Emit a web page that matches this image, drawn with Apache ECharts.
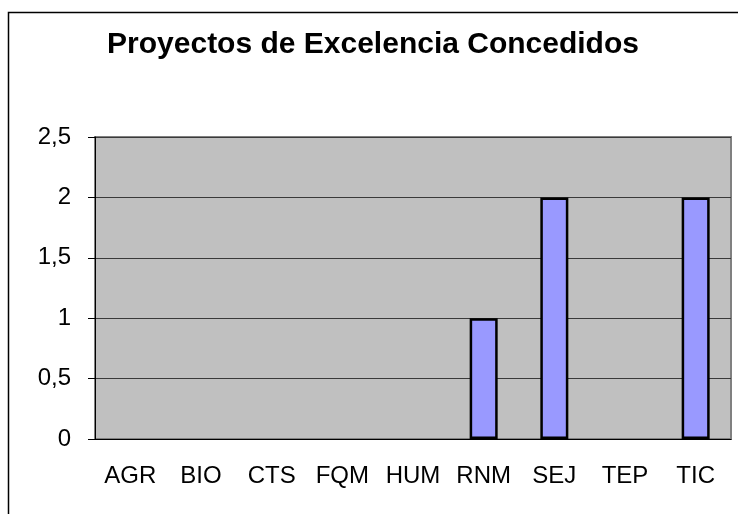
<!DOCTYPE html>
<html>
<head>
<meta charset="utf-8">
<script src="https://cdn.jsdelivr.net/npm/echarts@6/dist/echarts.min.js"></script>
<style>
html, body { margin: 0; padding: 0; background: #fff; }
#main { width: 738px; height: 514px; }
</style>
</head>
<body>
<div id="main"></div>
<script>
// datos del grafico
var categorias = ['AGR', 'BIO', 'CTS', 'FQM', 'HUM', 'RNM', 'SEJ', 'TEP', 'TIC'];
var concedidos = [0, 0, 0, 0, 0, 1, 2, 0, 2];

var myChart = echarts.init(document.getElementById('main'));

// las barras con valor 0 no llevan borde
var seriesData = [];
for (var i = 0; i < concedidos.length; i++) {
	var item = {};
	item.value = concedidos[i];
	if (concedidos[i] === 0) {
		item.itemStyle = { borderWidth : 0 };
	}
	seriesData.push(item);
}

var option = {
	animation : false,
	backgroundColor : '#fff',
	title : {
		text : 'Proyectos de Excelencia Concedidos',
		left : 368,
		top : 25,
		textAlign : 'center',
		textStyle : {
			fontFamily : 'Liberation Sans',
			fontWeight : 'bold',
			fontSize : 30,
			color : '#000'
		}
	},
	graphic : [ {
		type : 'rect',
		shape : { x : 8.5, y : 12.5, width : 800, height : 600 },
		style : { fill : null, stroke : '#000', lineWidth : 1.5 },
		silent : true
	} ],
	grid : {
		left : 95,
		right : 7,
		top : 137,
		bottom : 75,
		show : true,
		backgroundColor : '#C0C0C0',
		borderColor : '#808080',
		borderWidth : 2
	},
	xAxis : {
		type : 'category',
		data : categorias,
		axisLine : { lineStyle : { color : '#000', width : 1 } },
		axisTick : { length : 7, interval : 0, lineStyle : { color : '#000' } },
		axisLabel : {
			interval : 0,
			margin : 25,
			fontFamily : 'Liberation Sans',
			fontSize : 24,
			color : '#000'
		}
	},
	yAxis : {
		type : 'value',
		min : 0,
		max : 2.5,
		interval : 0.5,
		axisLine : { show : true, lineStyle : { color : '#000', width : 1 } },
		axisTick : { show : true, length : 7, lineStyle : { color : '#000' } },
		splitLine : { lineStyle : { color : '#3a3a3a', width : 1 } },
		axisLabel : {
			margin : 24,
			fontFamily : 'Liberation Sans',
			fontSize : 24,
			color : '#000',
			formatter : function(v) {
				return String(v).replace('.', ',');
			}
		}
	},
	series : [ {
		name : 'Concedidos',
		type : 'bar',
		data : seriesData,
		barWidth : 28,
		itemStyle : {
			color : '#9999FF',
			borderColor : '#000',
			borderWidth : 2.5
		}
	} ]
};
myChart.setOption(option);
</script>
</body>
</html>
